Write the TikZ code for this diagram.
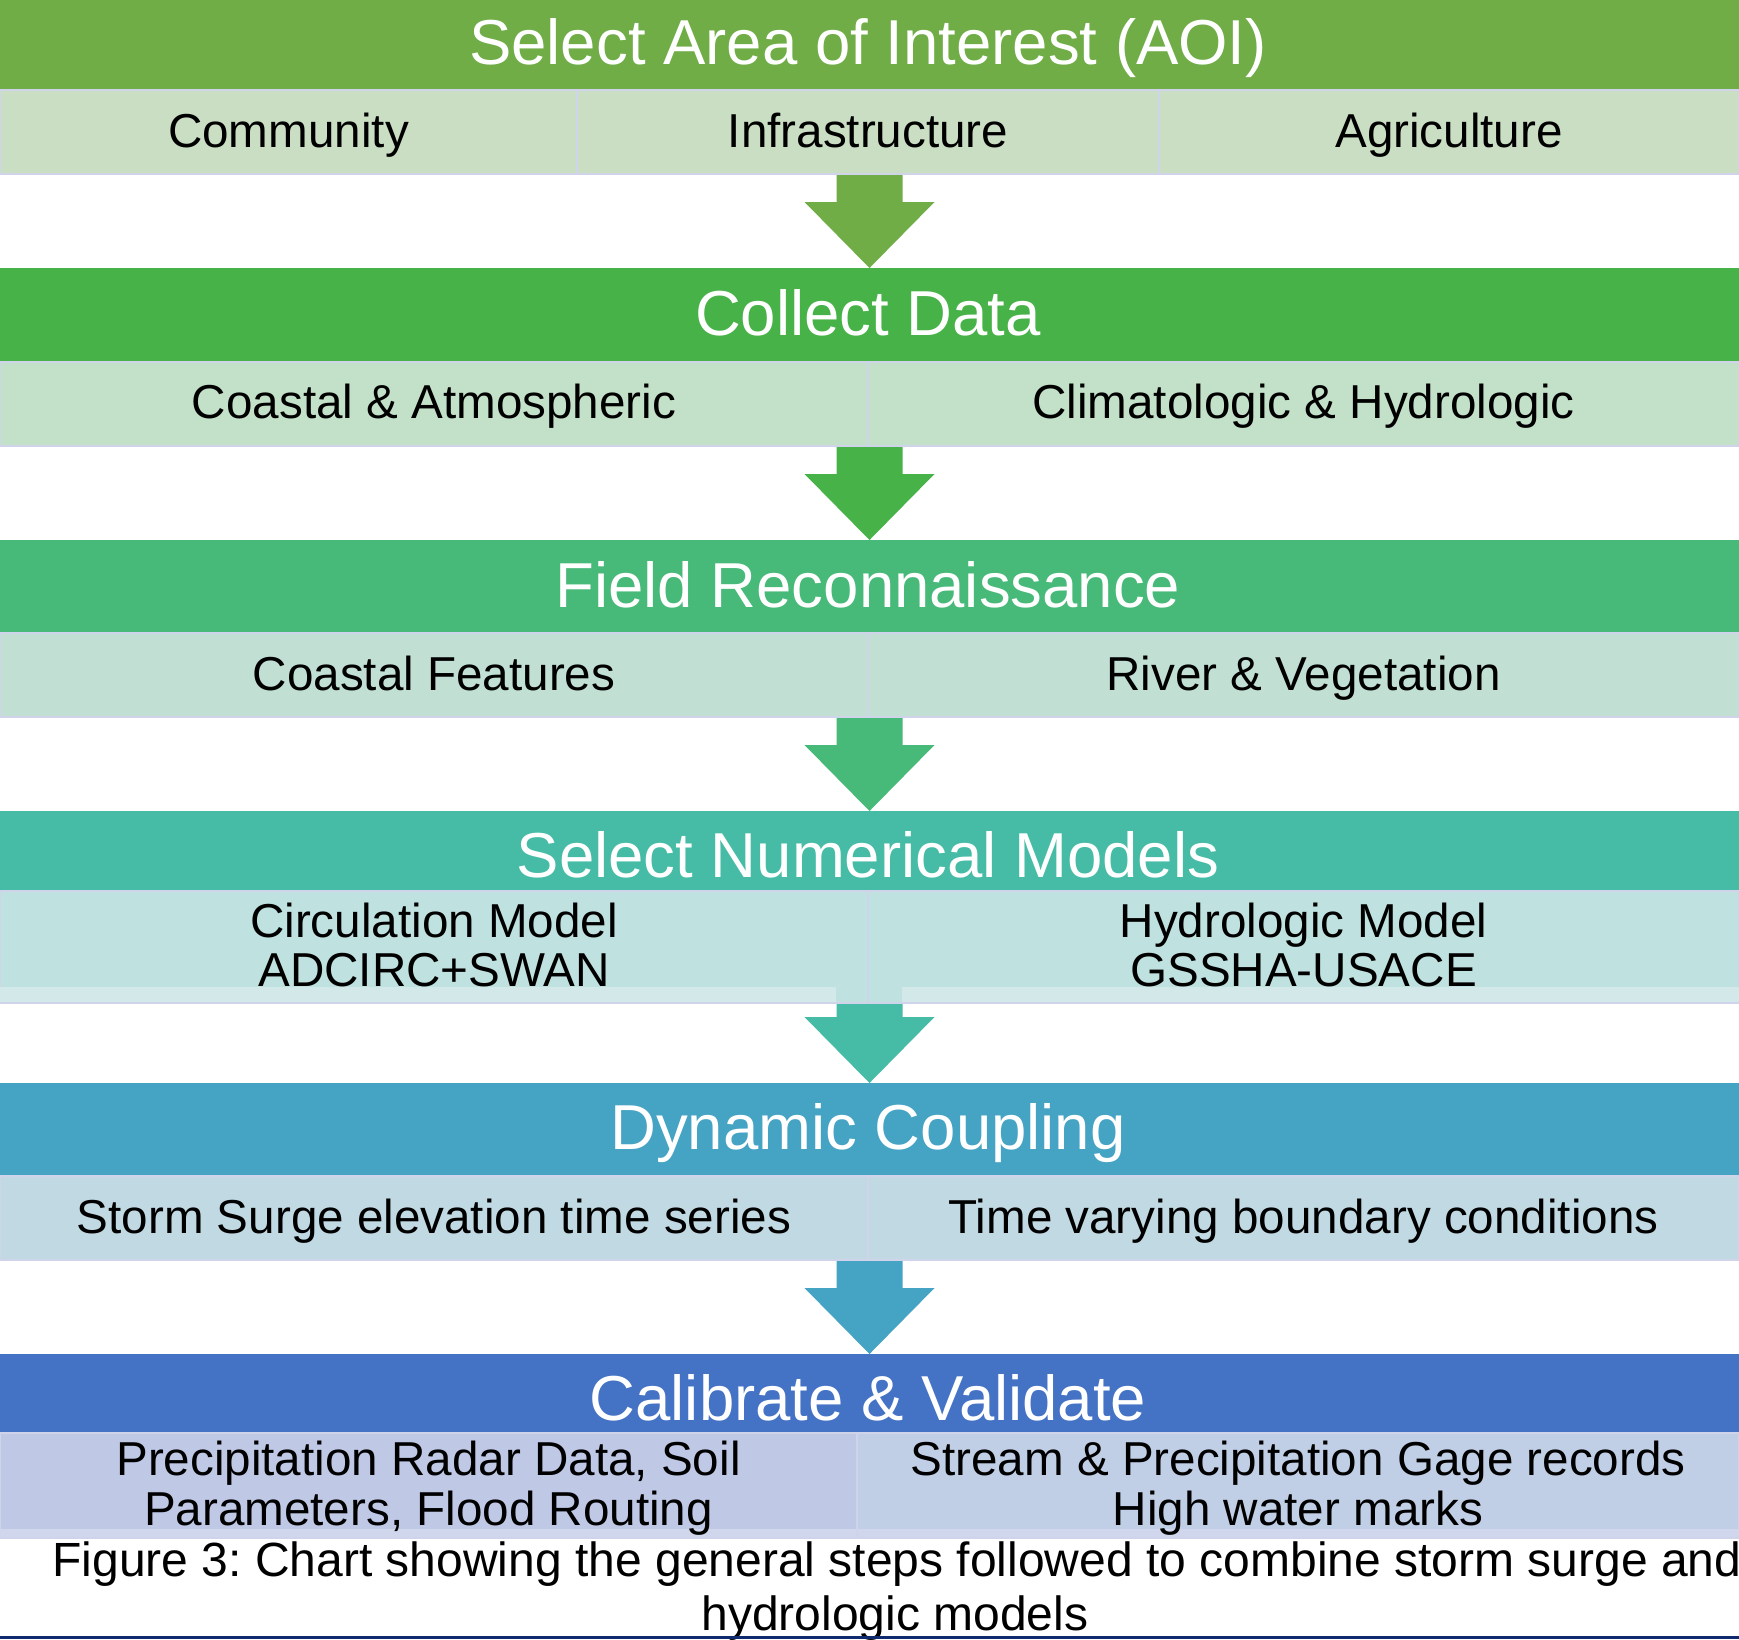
\documentclass[tikz,border=0pt]{standalone}
\usepackage{fontspec}
\setmainfont{Liberation Sans}
\usetikzlibrary{calc}
\frenchspacing
\definecolor{hA}{HTML}{70AD47}
\definecolor{sA}{HTML}{C9DEC3}
\definecolor{hB}{HTML}{47B247}
\definecolor{sB}{HTML}{C3E0C8}
\definecolor{hC}{HTML}{47B978}
\definecolor{sC}{HTML}{C1E0D3}
\definecolor{hD}{HTML}{46BCA6}
\definecolor{sD}{HTML}{BFE1DF}
\definecolor{bandD}{HTML}{D3E8E8}
\definecolor{hE}{HTML}{45A3C3}
\definecolor{sE}{HTML}{C1D9E3}
\definecolor{hF}{HTML}{4472C4}
\definecolor{sFl}{HTML}{BFC8E5}
\definecolor{sFr}{HTML}{C1CFE6}
\definecolor{bandF}{HTML}{D0D7EC}
\definecolor{edgec}{HTML}{CFD4EA}
\definecolor{navyc}{HTML}{0F2A6E}
\newcommand\HeadFont{\fontsize{63.5}{70}\selectfont}
\newcommand\SubFont{\fontsize{47.6}{52}\selectfont}
\newcommand\CapFont{\fontsize{48}{54}\selectfont}
\newcommand\BlockArrow[3]{%
  \fill[#3] ($(#1)+(-33,0)$) -- ($(#2)+(-33,-66)$) -- ($(#2)+(-65,-66)$) -- (#2)
    -- ($(#2)+(65,-66)$) -- ($(#2)+(33,-66)$) -- ($(#1)+(33,0)$) -- cycle;}
\tikzset{
  bar/.style={rectangle, inner sep=0pt, outer sep=0pt, anchor=north west, draw=none},
  cell/.style={rectangle, inner sep=0pt, outer sep=0pt, anchor=north west, draw=edgec, line width=2.5pt},
  headtext/.style={anchor=base, inner sep=0pt, text=white, font=\HeadFont},
  subtext/.style={anchor=base, inner sep=0pt, text=black, font=\SubFont},
  captext/.style={anchor=base, inner sep=0pt, text=black, font=\CapFont},
}
\begin{document}
\begin{tikzpicture}[x=1pt, y=-1pt]
\useasboundingbox (0,0) rectangle (1739,1639);
\fill[white] (0,0) rectangle (1739,1639);

% headers
\node[bar, fill=hA, minimum width=1739pt, minimum height=90pt] (h1) at (0,0) {};
\node[bar, fill=hB, minimum width=1739pt, minimum height=94pt] (h2) at (0,268) {};
\node[bar, fill=hC, minimum width=1739pt, minimum height=93pt] (h3) at (0,540) {};
\node[bar, fill=hD, minimum width=1739pt, minimum height=80pt] (h4) at (0,811) {};
\node[bar, fill=hE, minimum width=1739pt, minimum height=93pt] (h5) at (0,1083) {};
\node[bar, fill=hF, minimum width=1739pt, minimum height=79pt] (h6) at (0,1354) {};

% arrows (drawn below the cell borders)
\BlockArrow{h2.north |- 0,174}{h2.north}{hA}
\BlockArrow{h3.north |- 0,446}{h3.north}{hB}
\BlockArrow{h4.north |- 0,717}{h4.north}{hC}
\BlockArrow{h5.north |- 0,1003}{h5.north}{hD}
\BlockArrow{h6.north |- 0,1260}{h6.north}{hE}

% row 1 cells
\node[cell, fill=sA, minimum width=577pt, minimum height=84pt] (c11) at (0,90) {};
\node[cell, fill=sA, minimum width=582pt, minimum height=84pt] (c12) at (577,90) {};
\node[cell, fill=sA, minimum width=580pt, minimum height=84pt] (c13) at (1159,90) {};
% row 2
\node[cell, fill=sB, minimum width=868pt, minimum height=84pt] (c21) at (0,362) {};
\node[cell, fill=sB, minimum width=871pt, minimum height=84pt] (c22) at (868,362) {};
% row 3
\node[cell, fill=sC, minimum width=868pt, minimum height=84pt] (c31) at (0,633) {};
\node[cell, fill=sC, minimum width=871pt, minimum height=84pt] (c32) at (868,633) {};
% row 4
\node[cell, fill=sD, minimum width=868pt, minimum height=112pt] (c41) at (0,891) {};
\node[cell, fill=sD, minimum width=871pt, minimum height=112pt] (c42) at (868,891) {};
\node[bar, fill=bandD, minimum width=836pt, minimum height=14.5pt] (b41) at (0,987) {};
\node[bar, fill=bandD, minimum width=837pt, minimum height=14.5pt] (b42) at (902,987) {};
% row 5
\node[cell, fill=sE, minimum width=868pt, minimum height=84pt] (c51) at (0,1176) {};
\node[cell, fill=sE, minimum width=871pt, minimum height=84pt] (c52) at (868,1176) {};
% row 6
\node[cell, fill=sFl, minimum width=857pt, minimum height=105pt] (c61) at (0,1433) {};
\node[cell, fill=sFr, minimum width=882pt, minimum height=105pt] (c62) at (857,1433) {};
\node[bar, fill=bandF, minimum width=855.7pt, minimum height=7.7pt] (b61) at (0,1529) {};
\node[bar, fill=bandF, minimum width=881pt, minimum height=7.7pt] (b62) at (858.3,1529) {};

% header texts
\node[headtext] (t1) at (868,64) {Select Area of Interest (AOI)};
\node[headtext] (t2) at (868,335) {Collect Data};
\node[headtext] (t3) at (868,607) {Field Reconnaissance};
\node[headtext] (t4) at (868,877) {Select Numerical Models};
\node[headtext] (t5) at (868,1149) {Dynamic Coupling};
\node[headtext] (t6) at (868,1420) {Calibrate \& Validate};

% sub texts
\node[subtext] (u11) at (288.5,147) {Community};
\node[subtext] (u12) at (868,147) {Infrastructure};
\node[subtext] (u13) at (1449,147) {Agriculture};
\node[subtext] (u21) at (434,418) {Coastal \& Atmospheric};
\node[subtext] (u22) at (1303.5,418) {Climatologic \& Hydrologic};
\node[subtext] (u31) at (434,690) {Coastal Features};
\node[subtext] (u32) at (1303.5,690) {River \& Vegetation};
\node[subtext] (u41a) at (434,937) {Circulation Model};
\node[subtext] (u41b) at (434,986) {ADCIRC+SWAN};
\node[subtext] (u42a) at (1303.5,937) {Hydrologic Model};
\node[subtext] (u42b) at (1303.5,986) {GSSHA-USACE};
\node[subtext] (u51) at (434,1233) {Storm Surge elevation time series};
\node[subtext] (u52) at (1303.5,1233) {Time varying boundary conditions};
\node[subtext] (u61a) at (428.5,1475) {Precipitation Radar Data, Soil};
\node[subtext] (u61b) at (428.5,1525) {Parameters, Flood Routing};
\node[subtext] (u62a) at (1298,1475) {Stream \& Precipitation Gage records};
\node[subtext] (u62b) at (1298,1525) {High water marks};

% caption
\node[captext] (cap1) at (897,1576) {Figure 3: Chart showing the general steps followed to combine storm surge and};
\node[captext] (cap2) at (895,1630) {hydrologic models};

% bottom rule
\node[bar, fill=navyc, minimum width=1739pt, minimum height=3pt] (rule) at (0,1636) {};
\end{tikzpicture}
\end{document}
